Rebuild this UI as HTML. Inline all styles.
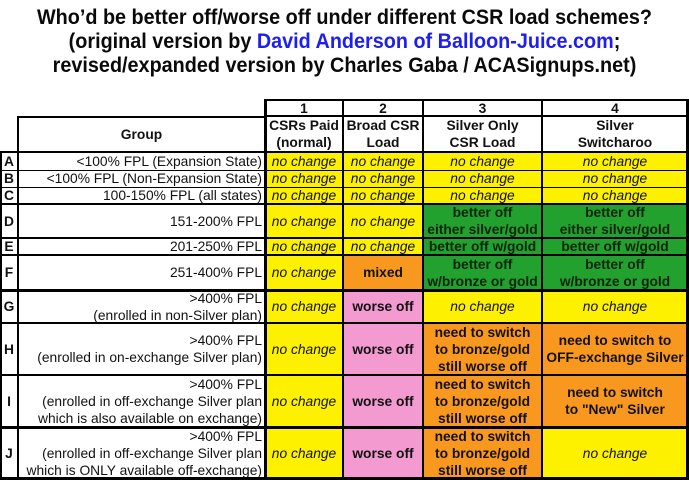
<!DOCTYPE html>
<html><head><meta charset="utf-8">
<style>
html,body{margin:0;padding:0;background:#fff;}
body{width:689px;height:480px;position:relative;overflow:hidden;font-family:"Liberation Sans",Arial,sans-serif;color:#111;}
.t{position:absolute;left:0;top:6px;width:689px;text-align:center;font-weight:bold;font-size:21px;line-height:24px;color:#0a0a0a;transform:scaleX(0.943);transform-origin:344.5px 0;}
.t .b{color:#1e1ef0;}
.c{position:absolute;display:flex;align-items:center;justify-content:center;text-align:center;font-size:13.8px;line-height:17px;box-sizing:border-box;}
.g{justify-content:flex-end;text-align:right;padding-right:3px;}
.nc{font-style:italic;}
.bo{font-weight:bold;}
.Y{background:#fdf100;}
.G{background:#23a12e;color:#0c230c;}
.O{background:#f9981f;}
.P{background:#f39bd0;}
.l{position:absolute;background:#000;}
</style></head><body>
<div class="t">Who’d be better off/worse off under different CSR load schemes?<br>(original version by <span class="b">David Anderson of Balloon-Juice.com</span>;<br>revised/expanded version by Charles Gaba / ACASignups.net)</div>

<!-- header -->
<div class="c bo" style="left:265px;top:100px;width:78px;height:16px;">1</div>
<div class="c bo" style="left:343px;top:100px;width:80px;height:16px;">2</div>
<div class="c bo" style="left:423px;top:100px;width:119px;height:16px;">3</div>
<div class="c bo" style="left:542px;top:100px;width:146px;height:16px;">4</div>
<div class="c bo" style="left:265px;top:116px;width:78px;height:36px;">CSRs Paid<br>(normal)</div>
<div class="c bo" style="left:343px;top:116px;width:80px;height:36px;">Broad CSR<br>Load</div>
<div class="c bo" style="left:423px;top:116px;width:119px;height:36px;">Silver Only<br>CSR Load</div>
<div class="c bo" style="left:542px;top:116px;width:146px;height:36px;">Silver<br>Switcharoo</div>
<div class="c bo" style="left:18px;top:117px;width:247px;height:35px;">Group</div>

<!-- row labels -->
<div class="c bo" style="left:0;top:152px;width:18px;height:18px;">A</div>
<div class="c bo" style="left:0;top:170px;width:18px;height:17px;">B</div>
<div class="c bo" style="left:0;top:187px;width:18px;height:17px;">C</div>
<div class="c bo" style="left:0;top:204px;width:18px;height:34px;">D</div>
<div class="c bo" style="left:0;top:238px;width:18px;height:17px;">E</div>
<div class="c bo" style="left:0;top:255px;width:18px;height:35px;">F</div>
<div class="c bo" style="left:0;top:290px;width:18px;height:33px;">G</div>
<div class="c bo" style="left:0;top:323px;width:18px;height:52px;">H</div>
<div class="c bo" style="left:0;top:375px;width:18px;height:52px;">I</div>
<div class="c bo" style="left:0;top:427px;width:18px;height:52px;">J</div>

<!-- group column -->
<div class="c g" style="left:18px;top:152px;width:247px;height:18px;">&lt;100% FPL (Expansion State)</div>
<div class="c g" style="left:18px;top:170px;width:247px;height:17px;">&lt;100% FPL (Non-Expansion State)</div>
<div class="c g" style="left:18px;top:187px;width:247px;height:17px;">100-150% FPL (all states)</div>
<div class="c g" style="left:18px;top:204px;width:247px;height:34px;">151-200% FPL</div>
<div class="c g" style="left:18px;top:238px;width:247px;height:17px;">201-250% FPL</div>
<div class="c g" style="left:18px;top:255px;width:247px;height:35px;">251-400% FPL</div>
<div class="c g" style="left:18px;top:290px;width:247px;height:33px;">&gt;400% FPL<br>(enrolled in non-Silver plan)</div>
<div class="c g" style="left:18px;top:323px;width:247px;height:52px;">&gt;400% FPL<br>(enrolled in on-exchange Silver plan)</div>
<div class="c g" style="left:18px;top:375px;width:247px;height:52px;">&gt;400% FPL<br>(enrolled in off-exchange Silver plan<br>which is also available on exchange)</div>
<div class="c g" style="left:18px;top:427px;width:247px;height:52px;">&gt;400% FPL<br>(enrolled in off-exchange Silver plan<br>which is ONLY available off-exchange)</div>

<!-- col 1 -->
<div class="c Y nc" style="left:265px;top:152px;width:78px;height:18px;">no change</div>
<div class="c Y nc" style="left:265px;top:170px;width:78px;height:17px;">no change</div>
<div class="c Y nc" style="left:265px;top:187px;width:78px;height:17px;">no change</div>
<div class="c Y nc" style="left:265px;top:204px;width:78px;height:34px;">no change</div>
<div class="c Y nc" style="left:265px;top:238px;width:78px;height:17px;">no change</div>
<div class="c Y nc" style="left:265px;top:255px;width:78px;height:35px;">no change</div>
<div class="c Y nc" style="left:265px;top:290px;width:78px;height:33px;">no change</div>
<div class="c Y nc" style="left:265px;top:323px;width:78px;height:52px;">no change</div>
<div class="c Y nc" style="left:265px;top:375px;width:78px;height:52px;">no change</div>
<div class="c Y nc" style="left:265px;top:427px;width:78px;height:53px;">no change</div>

<!-- col 2 -->
<div class="c Y nc" style="left:343px;top:152px;width:80px;height:18px;">no change</div>
<div class="c Y nc" style="left:343px;top:170px;width:80px;height:17px;">no change</div>
<div class="c Y nc" style="left:343px;top:187px;width:80px;height:17px;">no change</div>
<div class="c Y nc" style="left:343px;top:204px;width:80px;height:34px;">no change</div>
<div class="c Y nc" style="left:343px;top:238px;width:80px;height:17px;">no change</div>
<div class="c O bo" style="left:343px;top:255px;width:80px;height:35px;">mixed</div>
<div class="c P bo" style="left:343px;top:290px;width:80px;height:33px;">worse off</div>
<div class="c P bo" style="left:343px;top:323px;width:80px;height:52px;">worse off</div>
<div class="c P bo" style="left:343px;top:375px;width:80px;height:52px;">worse off</div>
<div class="c P bo" style="left:343px;top:427px;width:80px;height:53px;">worse off</div>

<!-- col 3 -->
<div class="c Y nc" style="left:423px;top:152px;width:119px;height:18px;">no change</div>
<div class="c Y nc" style="left:423px;top:170px;width:119px;height:17px;">no change</div>
<div class="c Y nc" style="left:423px;top:187px;width:119px;height:17px;">no change</div>
<div class="c G bo" style="left:423px;top:204px;width:119px;height:34px;">better off<br>either silver/gold</div>
<div class="c G bo" style="left:423px;top:238px;width:119px;height:17px;">better off w/gold</div>
<div class="c G bo" style="left:423px;top:255px;width:119px;height:35px;">better off<br>w/bronze or gold</div>
<div class="c Y nc" style="left:423px;top:290px;width:119px;height:33px;">no change</div>
<div class="c O bo" style="left:423px;top:323px;width:119px;height:52px;">need to switch<br>to bronze/gold<br>still worse off</div>
<div class="c O bo" style="left:423px;top:375px;width:119px;height:52px;">need to switch<br>to bronze/gold<br>still worse off</div>
<div class="c O bo" style="left:423px;top:427px;width:119px;height:53px;">need to switch<br>to bronze/gold<br>still worse off</div>

<!-- col 4 -->
<div class="c Y nc" style="left:542px;top:152px;width:146px;height:18px;">no change</div>
<div class="c Y nc" style="left:542px;top:170px;width:146px;height:17px;">no change</div>
<div class="c Y nc" style="left:542px;top:187px;width:146px;height:17px;">no change</div>
<div class="c G bo" style="left:542px;top:204px;width:146px;height:34px;">better off<br>either silver/gold</div>
<div class="c G bo" style="left:542px;top:238px;width:146px;height:17px;">better off w/gold</div>
<div class="c G bo" style="left:542px;top:255px;width:146px;height:35px;">better off<br>w/bronze or gold</div>
<div class="c Y nc" style="left:542px;top:290px;width:146px;height:33px;">no change</div>
<div class="c O bo" style="left:542px;top:323px;width:146px;height:52px;">need to switch to<br>OFF-exchange Silver</div>
<div class="c O bo" style="left:542px;top:375px;width:146px;height:52px;">need to switch<br>to "New" Silver</div>
<div class="c Y nc" style="left:542px;top:427px;width:146px;height:53px;">no change</div>

<!-- vertical lines -->
<div class="l" style="left:0;top:151px;width:2px;height:329px;"></div>
<div class="l" style="left:17px;top:116px;width:2px;height:364px;"></div>
<div class="l" style="left:264px;top:99px;width:3px;height:381px;"></div>
<div class="l" style="left:342px;top:99px;width:2px;height:381px;"></div>
<div class="l" style="left:422px;top:99px;width:2px;height:381px;"></div>
<div class="l" style="left:541px;top:99px;width:2px;height:381px;"></div>
<div class="l" style="left:686px;top:99px;width:3px;height:381px;"></div>

<!-- horizontal lines -->
<div class="l" style="left:264px;top:99px;width:425px;height:2px;"></div>
<div class="l" style="left:264px;top:115px;width:425px;height:2px;"></div>
<div class="l" style="left:17px;top:116px;width:249px;height:2px;"></div>
<div class="l" style="left:0;top:151px;width:689px;height:2px;"></div>
<div class="l" style="left:0;top:170px;width:689px;height:1px;"></div>
<div class="l" style="left:0;top:187px;width:689px;height:1px;"></div>
<div class="l" style="left:0;top:203px;width:689px;height:2px;"></div>
<div class="l" style="left:0;top:237px;width:689px;height:2px;"></div>
<div class="l" style="left:0;top:254px;width:689px;height:2px;"></div>
<div class="l" style="left:0;top:289px;width:689px;height:3px;"></div>
<div class="l" style="left:0;top:322px;width:689px;height:2px;"></div>
<div class="l" style="left:0;top:374px;width:689px;height:2px;"></div>
<div class="l" style="left:0;top:426px;width:689px;height:3px;"></div>
<div class="l" style="left:0;top:477px;width:689px;height:3px;"></div>
</body></html>
